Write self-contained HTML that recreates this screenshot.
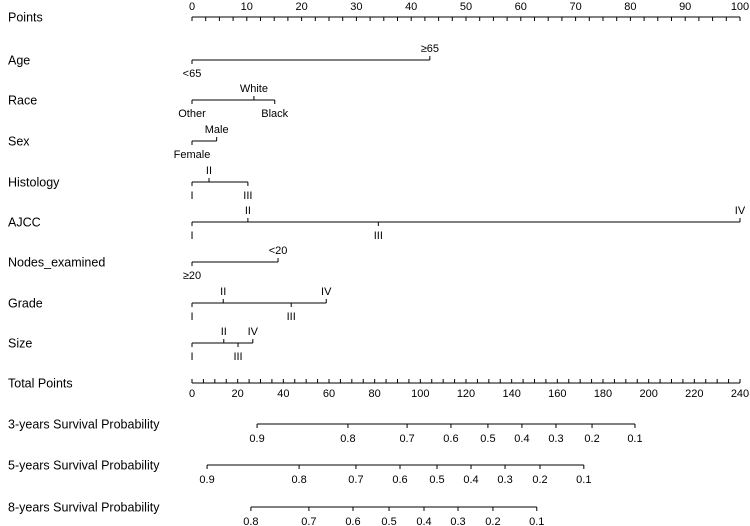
<!DOCTYPE html>
<html><head><meta charset="utf-8">
<style>
html,body{margin:0;padding:0;background:#fff;}
svg{display:block;font-family:"Liberation Sans",Arial,sans-serif;}
</style></head>
<body>
<svg id="nomo" width="750" height="526" viewBox="0 0 750 526"></svg>
<script>
// ---- data ----
const pointsTicks = [0,10,20,30,40,50,60,70,80,90,100];
const totalTicks = [0,20,40,60,80,100,120,140,160,180,200,220,240];
const varNames = ["Age","Race","Sex","Histology","AJCC","Nodes_examined","Grade","Size"];
const ageLevels = ["<65","≥65"];           const agePts = [0,43.4];
const raceLevels = ["Other","White","Black"]; const racePts = [0,11.3,15.1];
const sexLevels = ["Female","Male"];       const sexPts = [0,4.5];
const histLevels = ["I","II","III"];       const histPts = [0,3.1,10.2];
const ajccLevels = ["I","II","III","IV"];  const ajccPts = [0,10.2,34,100];
const nodesLevels = ["≥20","<20"];         const nodesPts = [0,15.7];
const gradeLevels = ["I","II","III","IV"]; const gradePts = [0,5.7,18.1,24.5];
const sizeLevels = ["I","II","III","IV"];  const sizePts = [0,5.8,8.4,11.1];
const surv3Labels = ["0.9","0.8","0.7","0.6","0.5","0.4","0.3","0.2","0.1"];
const surv3Total = [28.5,68.3,94.2,113.4,129.6,144.5,159.4,175.2,194];
const surv5Labels = ["0.9","0.8","0.7","0.6","0.5","0.4","0.3","0.2","0.1"];
const surv5Total = [6.6,46.9,71.8,91.1,107.3,122.2,137.1,152.4,171.6];
const surv8Labels = ["0.8","0.7","0.6","0.5","0.4","0.3","0.2","0.1"];
const surv8Total = [25.8,51.2,70.5,86.3,101.6,116.5,131.8,151];

const svg = document.getElementById('nomo');
const NS = 'http://www.w3.org/2000/svg';
const X0 = 192, X1 = 740;
const xP = p => X0 + (X1 - X0) * p / 100;
const xT = t => X0 + (X1 - X0) * t / 240;

function line(x1,y1,x2,y2,name){
  const l = document.createElementNS(NS,'line');
  l.setAttribute('x1',x1);l.setAttribute('y1',y1);l.setAttribute('x2',x2);l.setAttribute('y2',y2);
  l.setAttribute('stroke','#000');l.setAttribute('stroke-width','1');
  
  
  svg.appendChild(l);
}
function text(x,y,s,size,anchor,name){
  const t = document.createElementNS(NS,'text');
  t.setAttribute('x',x);t.setAttribute('y',y);t.setAttribute('font-size',size);
  t.setAttribute('text-anchor',anchor);t.setAttribute('fill','#000');
  t.textContent = s;
  
  
  svg.appendChild(t);
}

// row titles
const rowTitles = ["Points","Age","Race","Sex","Histology","AJCC","Nodes_examined","Grade","Size","Total Points","3-years Survival Probability","5-years Survival Probability","8-years Survival Probability"];
const rowY = [17,60,100,141,182,222,262,303,343,383,424,465,507];
rowTitles.forEach((r,i)=>text(8,rowY[i]+4.5,r,12.5,'start','row-title'));

// points axis
line(X0,17,X1,17,'points-axis-line');
for(let p=0;p<=100;p+=2.5){ line(xP(p),17,xP(p),21,'points-tick'); }
pointsTicks.forEach(p=>text(xP(p),10,String(p),11,'middle','points-tick-label'));

// variable axes
const levelsAll = [ageLevels,raceLevels,sexLevels,histLevels,ajccLevels,nodesLevels,gradeLevels,sizeLevels];
const ptsAll = [agePts,racePts,sexPts,histPts,ajccPts,nodesPts,gradePts,sizePts];
varNames.forEach((v,i)=>{
  const y = rowY[i+1];
  const pts = ptsAll[i], lv = levelsAll[i];
  const mn = Math.min(...pts), mx = Math.max(...pts);
  line(xP(mn),y,xP(mx),y,'axis-'+v.toLowerCase());
  const order = pts.map((p,k)=>k).sort((a,b)=>pts[a]-pts[b]);
  order.forEach((k,j)=>{
    const above = j%2===1;
    const x = xP(pts[k]);
    if(above){ line(x,y,x,y-4,'level-tick'); text(x,y-8,lv[k],11,'middle','level-label'); }
    else { line(x,y,x,y+4,'level-tick'); text(x,y+17,lv[k],11,'middle','level-label'); }
  });
});

// total points axis
line(X0,383,X1,383,'total-points-axis-line');
for(let t=0;t<=240;t+=5){ line(xT(t),383,xT(t),379,'total-tick'); }
totalTicks.forEach(t=>text(xT(t),397,String(t),11,'middle','total-tick-label'));

// survival axes
function surv(labels,totals,y,name){
  const xs = totals.map(xT);
  line(Math.min(...xs),y,Math.max(...xs),y,name+'-line');
  totals.forEach((t,k)=>{
    line(xT(t),y,xT(t),y+4,name+'-tick');
    text(xT(t),y+18,labels[k],11,'middle',name+'-label');
  });
}
surv(surv3Labels,surv3Total,424,'surv-3yr');
surv(surv5Labels,surv5Total,465,'surv-5yr');
surv(surv8Labels,surv8Total,507,'surv-8yr');
</script>
</body></html>
